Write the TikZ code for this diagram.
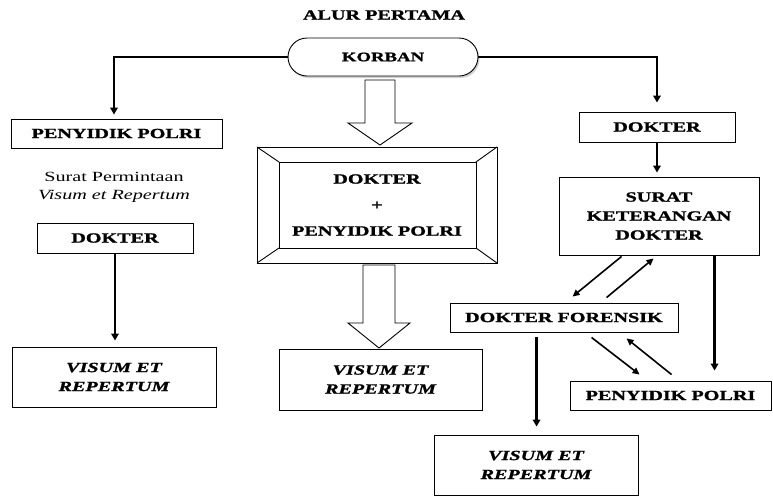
\documentclass[tikz,border=0pt]{standalone}
\usepackage{fontspec}
\setmainfont{Liberation Serif}[FakeStretch=1.44,BoldFeatures={FakeBold=1.2},BoldItalicFeatures={FakeBold=1.2}]
\usetikzlibrary{arrows.meta,calc,shadows}
\tikzset{
  box/.style={draw=black,line width=0.9pt,inner sep=0pt,align=center,font=\fontsize{14}{19}\selectfont\bfseries},
  conn/.style={line width=2.2pt,-{Triangle[length=7pt,width=7.5pt]}},
  diag/.style={line width=1.6pt,-{Triangle[length=7pt,width=6.5pt]}},
  hollow/.style={draw=black,line width=0.9pt,fill=white,line join=miter},
}
\begin{document}
\begin{tikzpicture}[x=1pt,y=-1pt]
\useasboundingbox (0,0) rectangle (773,496);
% title
\node[font=\fontsize{14}{17}\selectfont\bfseries] (title) at (384,15) {ALUR PERTAMA};
% korban
\node[box,fill=white,rounded corners=19pt,minimum width=190pt,minimum height=38pt,font=\fontsize{13}{16}\selectfont\bfseries,
  drop shadow={shadow xshift=1.5pt,shadow yshift=-2pt,fill=black!30,opacity=0.6}] (korban) at (383,57) {KORBAN};
% left column
\node[box,minimum width=211pt,minimum height=29pt] (pen1) at (116.5,133.5) {PENYIDIK POLRI};
\node[align=center,font=\fontsize{14}{18}\selectfont,inner sep=0pt] (surat1) at (114,187) {Surat Permintaan\\\textit{Visum et Repertum}};
\node[box,minimum width=156pt,minimum height=30pt] (dok1) at (115,238) {DOKTER};
\node[box,minimum width=204pt,minimum height=60pt,font=\fontsize{14}{19}\selectfont\bfseries\itshape] (vis1) at (114,377) {VISUM ET\\REPERTUM};
% middle column: bevel box
\coordinate (bo1) at (257,147); \coordinate (bo2) at (497,147);
\coordinate (bo3) at (497,263); \coordinate (bo4) at (257,263);
\coordinate (bi1) at (279,162); \coordinate (bi2) at (476,162);
\coordinate (bi3) at (476,248); \coordinate (bi4) at (279,248);
\draw[line width=0.9pt] (bo1) -- (bo2) -- (bo3) -- (bo4) -- cycle;
\draw[line width=0.9pt] (bi1) -- (bi2) -- (bi3) -- (bi4) -- cycle;
\draw[line width=0.9pt] (bo1) -- (bi1) (bo2) -- (bi2) (bo3) -- (bi3) (bo4) -- (bi4);
\node[align=center,font=\fontsize{14}{26}\selectfont\bfseries,inner sep=0pt] (bevel) at (377,205) {DOKTER\\+\\PENYIDIK POLRI};
% hollow arrows
\draw[hollow] (365,80) -- (395,80) -- (395,123) -- (412,123) -- (380,145) -- (348,123) -- (365,123) -- cycle;
\draw[hollow] (363,265) -- (395,265) -- (395,323) -- (410,323) -- (379,348) -- (348,323) -- (363,323) -- cycle;
\node[box,minimum width=203pt,minimum height=61pt,font=\fontsize{14}{19}\selectfont\bfseries\itshape] (vis2) at (380.5,379.5) {VISUM ET\\REPERTUM};
% right column
\node[box,minimum width=156pt,minimum height=30pt] (dok2) at (657,127) {DOKTER};
\node[box,minimum width=200pt,minimum height=78pt] (surat2) at (659,216) {SURAT\\KETERANGAN\\DOKTER};
\node[box,minimum width=228pt,minimum height=29pt] (foren) at (564,317.5) {DOKTER FORENSIK};
\node[box,minimum width=201pt,minimum height=29pt] (pen2) at (670.5,395.5) {PENYIDIK POLRI};
\node[box,minimum width=204pt,minimum height=60pt,font=\fontsize{14}{19}\selectfont\bfseries\itshape] (vis3) at (536,465) {VISUM ET\\REPERTUM};
% connectors
\draw[conn,shorten >=4pt] (korban.west) -| ($(pen1.north)+(-2.5,0)$);
\draw[conn,shorten >=9pt] (korban.east) -| (dok2.north);
\draw[conn,shorten >=4pt] (dok2.south) -- (dok2.south |- surat2.north);
\draw[conn,shorten >=6pt] (dok1.south) -- (dok1.south |- vis1.north);
\draw[diag] ($(surat2.south west)+(63,1)$) -- ($(foren.north west)+(123,-6)$);
\draw[diag] ($(foren.north west)+(157,-5)$) -- ($(surat2.south west)+(95,3)$);
\draw[diag] ($(foren.south west)+(142,5)$) -- ($(pen2.north west)+(70,-6)$);
\draw[diag] ($(pen2.north west)+(102,-6)$) -- ($(foren.south west)+(177,6)$);
\draw[conn,shorten >=10pt] ($(surat2.south west)+(156,0)$) -- ($(pen2.north west)+(145,0)$);
\draw[conn,shorten >=8pt] ($(foren.south west)+(87,5)$) -- ($(vis3.north west)+(103,0)$);
\end{tikzpicture}
\end{document}
